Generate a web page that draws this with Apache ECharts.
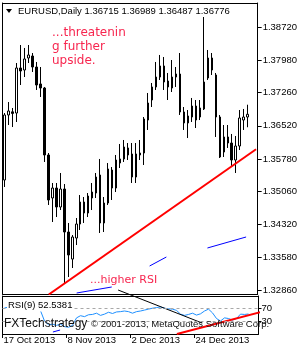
<!DOCTYPE html>
<html><head><meta charset="utf-8">
<script src="https://cdn.jsdelivr.net/npm/echarts@6/dist/echarts.min.js"></script>
<style>html,body{margin:0;padding:0;background:#fff}#c{width:300px;height:350px}</style>
</head><body><div id="c"></div>
<script>
const dates = ['17 Oct 2013','18 Oct 2013','21 Oct 2013','22 Oct 2013','23 Oct 2013','24 Oct 2013','25 Oct 2013','28 Oct 2013','29 Oct 2013','30 Oct 2013','31 Oct 2013',
'1 Nov 2013','4 Nov 2013','5 Nov 2013','6 Nov 2013','7 Nov 2013','8 Nov 2013','11 Nov 2013','12 Nov 2013','13 Nov 2013','14 Nov 2013','15 Nov 2013','18 Nov 2013','19 Nov 2013','20 Nov 2013','21 Nov 2013','22 Nov 2013','25 Nov 2013','26 Nov 2013','27 Nov 2013','28 Nov 2013','29 Nov 2013',
'2 Dec 2013','3 Dec 2013','4 Dec 2013','5 Dec 2013','6 Dec 2013','9 Dec 2013','10 Dec 2013','11 Dec 2013','12 Dec 2013','13 Dec 2013','16 Dec 2013','17 Dec 2013','18 Dec 2013','19 Dec 2013','20 Dec 2013','23 Dec 2013','24 Dec 2013','26 Dec 2013','27 Dec 2013','30 Dec 2013','31 Dec 2013',
'2 Jan 2014','3 Jan 2014','6 Jan 2014','7 Jan 2014','8 Jan 2014','9 Jan 2014','10 Jan 2014','13 Jan 2014','14 Jan 2014'];
const open = [1.35312,1.36760,1.36830,1.36804,1.37807,1.37762,1.38030,1.38074,1.37829,1.37451,
1.37361,1.35869,1.34911,1.35133,1.34710,1.35111,1.34153,1.33551,1.34019,1.34331,
1.34821,1.34576,1.34911,1.35022,1.35423,1.34354,1.34799,1.35534,1.35133,1.35690,
1.35780,1.36025,1.35891,1.35378,1.35869,1.35913,1.36648,1.37094,1.37384,1.37606,
1.37852,1.37517,1.37361,1.37606,1.37673,1.36827,1.36582,1.36715,1.36960,1.36715,
1.36894,1.37584,1.38030,1.37651,1.36715,1.35935,1.36270,1.36136,1.35757,1.36069,
1.36648,1.36715];
const high = [1.36804,1.37049,1.36916,1.37918,1.38319,1.38253,1.38319,1.38141,1.37941,1.37829,
1.37384,1.35913,1.35245,1.35245,1.35468,1.35222,1.34354,1.34086,1.34465,1.34977,
1.34933,1.35022,1.35245,1.35468,1.35780,1.34933,1.35690,1.35601,1.35869,1.36114,
1.36203,1.36136,1.36136,1.36136,1.36203,1.36715,1.37250,1.37473,1.37941,1.38097,
1.38052,1.37696,1.37985,1.37829,1.38141,1.36938,1.36871,1.37139,1.37094,1.37094,
1.38943,1.38208,1.38141,1.37696,1.36760,1.36537,1.36537,1.36337,1.36292,1.36871,
1.36894,1.36989];
const low = [1.35156,1.36537,1.36492,1.36604,1.37428,1.37606,1.37918,1.37718,1.37317,1.37161,
1.35713,1.34755,1.34376,1.34487,1.34643,1.33017,1.33150,1.33351,1.33863,1.34198,
1.34354,1.34487,1.34643,1.34911,1.34131,1.34153,1.34755,1.34866,1.35044,1.35579,
1.35713,1.35757,1.35245,1.35245,1.35757,1.35646,1.36426,1.36938,1.37317,1.37540,
1.37317,1.37094,1.37272,1.37384,1.36760,1.36426,1.36247,1.36604,1.36470,1.36648,
1.36871,1.37540,1.37651,1.36270,1.35802,1.35824,1.36025,1.35601,1.35468,1.35980,
1.36426,1.36487];
const close = [1.36760,1.36849,1.36795,1.37807,1.37740,1.38008,1.38097,1.37829,1.37428,1.37361,
1.35869,1.34866,1.35133,1.34710,1.35111,1.34153,1.33641,1.34042,1.34331,1.34821,
1.34576,1.34955,1.35044,1.35378,1.34354,1.34799,1.35557,1.35133,1.35757,1.35780,
1.36047,1.35869,1.35378,1.35891,1.35913,1.36671,1.37027,1.37384,1.37606,1.37852,
1.37495,1.37384,1.37606,1.37673,1.36827,1.36582,1.36738,1.36960,1.36648,1.36916,
1.37495,1.38030,1.37762,1.36715,1.35824,1.36270,1.36136,1.35757,1.36069,1.36693,
1.36715,1.36776];
const rsi = [72,74,73,82,79,82,83,76,66,63,
30,18,20,16,20,12,10,16,40,47,
44,50,51,55,48,52,58,54,59,60,
62,60,55,60,62,65,68,71,73,75,
71,69,68,64,52,48,51,55,49,53,
62,68,56,38,30,40,38,33,38,52,
51,52.5381];
const priceTicks = [1.3872,1.3798,1.3726,1.3652,1.3578,1.3506,1.3432,1.3358,1.3286];
const rsiTicks = [30,70,100];
const rsiLevels = [70,30];
const dateTickIdx = [0,16,32,48];
const shiftBars = 2;
// drawn objects: [bar index, value]
const supportLine = [[11.1,1.32761],[63.1,1.35996]];
const rsiSupport = [[43.1,-11.6],[66.9,68.4]];
const rsiDownLine = [[28.4,129.2],[49.4,23.6]];
const blueSeg1 = [[18.1,1.32794],[26.9,1.32928]];
const blueSeg2 = [[36.4,1.33396],[40.6,1.33596]];
const blueSeg3 = [[50.9,1.33797],[60.6,1.34042]];
const blueRsiSeg = [[12.1,-5.2],[13.9,1.2]];

const FONT = '"Liberation Sans", Arial, sans-serif';
const N = dates.length, last = N - 1;
const cats = dates.concat(Array(shiftBars).fill(''));
const candle = dates.map((d, i) => [open[i], close[i], low[i], high[i]]);
const PMIN = 1.32772, PMAX = 1.39255;
const RMIN = -11.6, RMAX = 110;
const XMIN = -0.5, XMAX = N + shiftBars - 0.5;
const axisBlack = {show: true, onZero: false, lineStyle: {color: '#000', width: 1}};
const noTick = {show: false}, noLabel = {show: false}, noSplit = {show: false};

function seg(data, color, width, xi, yi, clip) {
  return {type: 'line', xAxisIndex: xi, yAxisIndex: yi, data: data, symbol: 'none', clip: clip,
    silent: true, z: 4, lineStyle: {color: color, width: width}};
}

const chart = echarts.init(document.getElementById('c'), null, {renderer: 'canvas'});
chart.setOption({
  animation: false,
  backgroundColor: '#fff',
  grid: [{left: 2.5, top: 3, width: 256, height: 291}, {left: 2.5, top: 296, width: 256, height: 38}],
  xAxis: [
    {type: 'category', gridIndex: 0, data: cats, boundaryGap: true, position: 'bottom', axisLine: axisBlack, axisTick: noTick, axisLabel: noLabel, splitLine: noSplit},
    {type: 'value', gridIndex: 0, min: XMIN, max: XMAX, position: 'top', axisLine: axisBlack, axisTick: noTick, axisLabel: noLabel, splitLine: noSplit},
    {type: 'category', gridIndex: 1, data: cats, boundaryGap: true, position: 'top', axisLine: axisBlack, axisTick: noTick, axisLabel: noLabel, splitLine: noSplit},
    {type: 'value', gridIndex: 1, min: XMIN, max: XMAX, position: 'bottom', axisLine: axisBlack,
      axisTick: {show: true, customValues: dateTickIdx.map(i => i - 0.5), length: 4, lineStyle: {color: '#000'}},
      axisLabel: {show: true, customValues: dateTickIdx.map(i => i - 0.5), formatter: v => dates[Math.round(v + 0.5)],
        align: 'left', margin: 1, padding: [0, 0, 0, 1], color: '#000', fontFamily: FONT, fontSize: 9.5},
      splitLine: noSplit}
  ],
  yAxis: [
    {type: 'value', gridIndex: 0, min: PMIN, max: PMAX, position: 'right', axisLine: axisBlack,
      axisTick: {show: true, customValues: priceTicks, length: 4, lineStyle: {color: '#000'}},
      axisLabel: {show: true, customValues: priceTicks, formatter: v => v.toFixed(5), margin: 5, color: '#000', fontFamily: FONT, fontSize: 9.5},
      splitLine: noSplit},
    {type: 'value', gridIndex: 0, min: PMIN, max: PMAX, position: 'left', axisLine: axisBlack, axisTick: noTick, axisLabel: noLabel, splitLine: noSplit},
    {type: 'value', gridIndex: 1, min: RMIN, max: RMAX, position: 'right', axisLine: axisBlack,
      axisTick: {show: true, customValues: rsiTicks, length: 3, lineStyle: {color: '#000'}},
      axisLabel: {show: true, customValues: rsiTicks, margin: 3, color: '#000', fontFamily: FONT, fontSize: 9.5,
        formatter: v => v === 100 ? '{a|100}' : String(v),
        rich: {a: {padding: [7, 0, 0, 0], color: '#000', fontFamily: FONT, fontSize: 9.5}}},
      splitLine: noSplit},
    {type: 'value', gridIndex: 1, min: RMIN, max: RMAX, position: 'left', axisLine: axisBlack, axisTick: noTick, axisLabel: noLabel, splitLine: noSplit}
  ],
  series: [
    {type: 'candlestick', xAxisIndex: 0, yAxisIndex: 0, data: candle, barWidth: 2, z: 2,
      itemStyle: {color: '#fff', color0: '#000', borderColor: '#000', borderColor0: '#000', borderWidth: 1},
      markLine: {silent: true, symbol: 'none', animation: false, data: [{yAxis: close[last]}],
        lineStyle: {opacity: 0},
        label: {show: true, position: 'end', distance: 0, formatter: () => close[last].toFixed(5),
          color: '#fff', backgroundColor: '#000', padding: [2, 3, 1, 3], fontFamily: FONT, fontSize: 9.5, lineHeight: 10}}},
    {type: 'line', xAxisIndex: 2, yAxisIndex: 2, data: rsi, symbol: 'none', silent: true, z: 2,
      lineStyle: {color: '#1e90ff', width: 1},
      markLine: {silent: true, symbol: 'none', animation: false, label: {show: false},
        lineStyle: {color: '#a8a8a8', type: [3, 3], width: 1},
        data: rsiLevels.map(v => ({yAxis: v}))}},
    seg(supportLine, '#ff0000', 2, 1, 0, true),
    seg(blueSeg1, '#0000ff', 1, 1, 0, true),
    seg(blueSeg2, '#0000ff', 1, 1, 0, true),
    seg(blueSeg3, '#0000ff', 1, 1, 0, true),
    seg(rsiSupport, '#ff0000', 2, 3, 2, false),
    seg(rsiDownLine, '#000000', 1, 3, 2, false),
    seg(blueRsiSeg, '#0000ff', 1, 3, 2, false)
  ],
  graphic: [
    {type: 'polygon', z: 100, shape: {points: [[6, 9], [12, 9], [9, 13]]}, style: {fill: '#000'}},
    {type: 'text', z: 100, x: 18, y: 11, style: {text: 'EURUSD,Daily ' + [open[last], high[last], low[last], close[last]].map(v => v.toFixed(5)).join(' '),
      fill: '#000', font: '9.5px ' + FONT, textVerticalAlign: 'middle', verticalAlign: 'middle'}},
    {type: 'text', z: 100, x: 52, y: 25.5, style: {text: '...threatenin\ng further\nupside.', fill: '#f7264f',
      font: '12px "DejaVu Sans"', lineHeight: 14, textVerticalAlign: 'top', verticalAlign: 'top'}},
    {type: 'text', z: 100, x: 90, y: 280.5, style: {text: '...higher RSI', fill: '#f7264f',
      font: '11px "DejaVu Sans"', textVerticalAlign: 'middle', verticalAlign: 'middle'}},
    {type: 'text', z: 100, x: 7, y: 305.5, style: {text: 'RSI(9) ' + rsi[last].toFixed(4), fill: '#000',
      font: '9.5px ' + FONT, backgroundColor: '#fff', padding: [1, 1, 1, 1], textVerticalAlign: 'middle', verticalAlign: 'middle'}},
    {type: 'text', z: 100, x: 4, y: 323.5, style: {text: 'FXTechstrategy', fill: '#111',
      font: '12px ' + FONT, textVerticalAlign: 'middle', verticalAlign: 'middle'}},
    {type: 'text', z: 100, x: 91, y: 324.2, style: {text: '\u00a9 2001-2013, MetaQuotes Software Corp.', fill: '#111',
      font: '9.5px ' + FONT, textVerticalAlign: 'middle', verticalAlign: 'middle'}}
  ]
});
</script></body></html>
